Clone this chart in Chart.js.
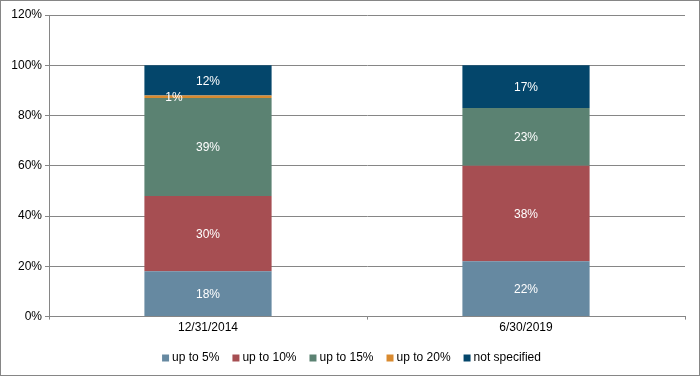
<!DOCTYPE html>
<html>
<head>
<meta charset="utf-8">
<script src="https://cdn.jsdelivr.net/npm/chart.js@4/dist/chart.umd.min.js"></script>
<style>
  html, body { margin: 0; padding: 0; background: #fff; }
  #wrap { width: 700px; height: 376px; box-sizing: border-box; border: 1px solid #868686; }
  canvas { display: block; }
</style>
</head>
<body>
<div id="wrap"><canvas id="chart" width="698" height="374"></canvas></div>
<script>
// categories and series (percent)
const dates = ['12/31/2014', '6/30/2019']
const upTo5 = [18, 22]
const upTo10 = [30, 38]
const upTo15 = [39, 23]
const upTo20 = [1, 0]
const notSpecified = [12, 17]
const yTicks = [0, 20, 40, 60, 80, 100, 120]

// draws the white value labels in the middle of each segment
const barLabels = {
  id: 'barLabels',
  afterDatasetsDraw(chart) {
    const ctx = chart.ctx
    ctx.save()
    ctx.font = '12px "Liberation Sans", Arial, sans-serif'
    ctx.fillStyle = '#ffffff'
    ctx.textAlign = 'center'
    ctx.textBaseline = 'middle'
    chart.data.datasets.forEach((ds, i) => {
      const meta = chart.getDatasetMeta(i)
      meta.data.forEach((bar, j) => {
        const v = ds.data[j]
        if (!v) return
        const y = (bar.y + bar.base) / 2
        // the thin orange slice gets its label nudged left like the original
        const dx = v < 3 ? -34 : 0
        ctx.fillText(v + '%', bar.x + dx, y + 1)
      })
    })
    ctx.restore()
  }
}

// legend sits a bit right of the canvas centre in the original
const legendShift = {
  id: 'legendShift',
  afterLayout(chart) {
    chart.legend.left += 10
    chart.legend.right += 10
  }
}

const data = {
  labels: dates,
  datasets: [
    { label: 'up to 5%', data: upTo5, backgroundColor: '#6689a1' },
    { label: 'up to 10%', data: upTo10, backgroundColor: '#a64e52' },
    { label: 'up to 15%', data: upTo15, backgroundColor: '#5b8272' },
    { label: 'up to 20%', data: upTo20, backgroundColor: '#d98a2f' },
    { label: 'not specified', data: notSpecified, backgroundColor: '#04466b' }
  ]
}

Chart.defaults.font.family = '"Liberation Sans", Arial, sans-serif'
Chart.defaults.font.size = 12
Chart.defaults.color = '#000'

const myChart = new Chart(document.getElementById('chart'), {
  type: 'bar',
  data: data,
  plugins: [barLabels, legendShift],
  options: {
    responsive: false,
    animation: false,
    layout: { padding: { top: 14, right: 14, left: 0, bottom: 1 } },
    datasets: { bar: { categoryPercentage: 0.4, barPercentage: 1 } },
    plugins: {
      legend: {
        position: 'bottom',
        labels: {
          usePointStyle: true, pointStyle: 'rect',
          boxWidth: 1, boxHeight: 7, padding: 16, color: '#000'
        }
      },
      tooltip: { enabled: false }
    },
    scales: {
      x: {
        stacked: true,
        grid: { drawOnChartArea: false, color: '#868686', tickLength: 3 },
        border: { color: '#868686' },
        ticks: { padding: 1 }
      },
      y: {
        stacked: true,
        min: 0,
        max: 120,
        afterBuildTicks: s => { s.ticks = yTicks.map(v => ({ value: v })) },
        afterFit: s => { s.width = 48 },
        grid: { color: '#868686', tickLength: 4 },
        border: { color: '#868686' },
        ticks: { callback: v => v + '%', padding: 3 }
      }
    }
  }
})
</script>
</body>
</html>
